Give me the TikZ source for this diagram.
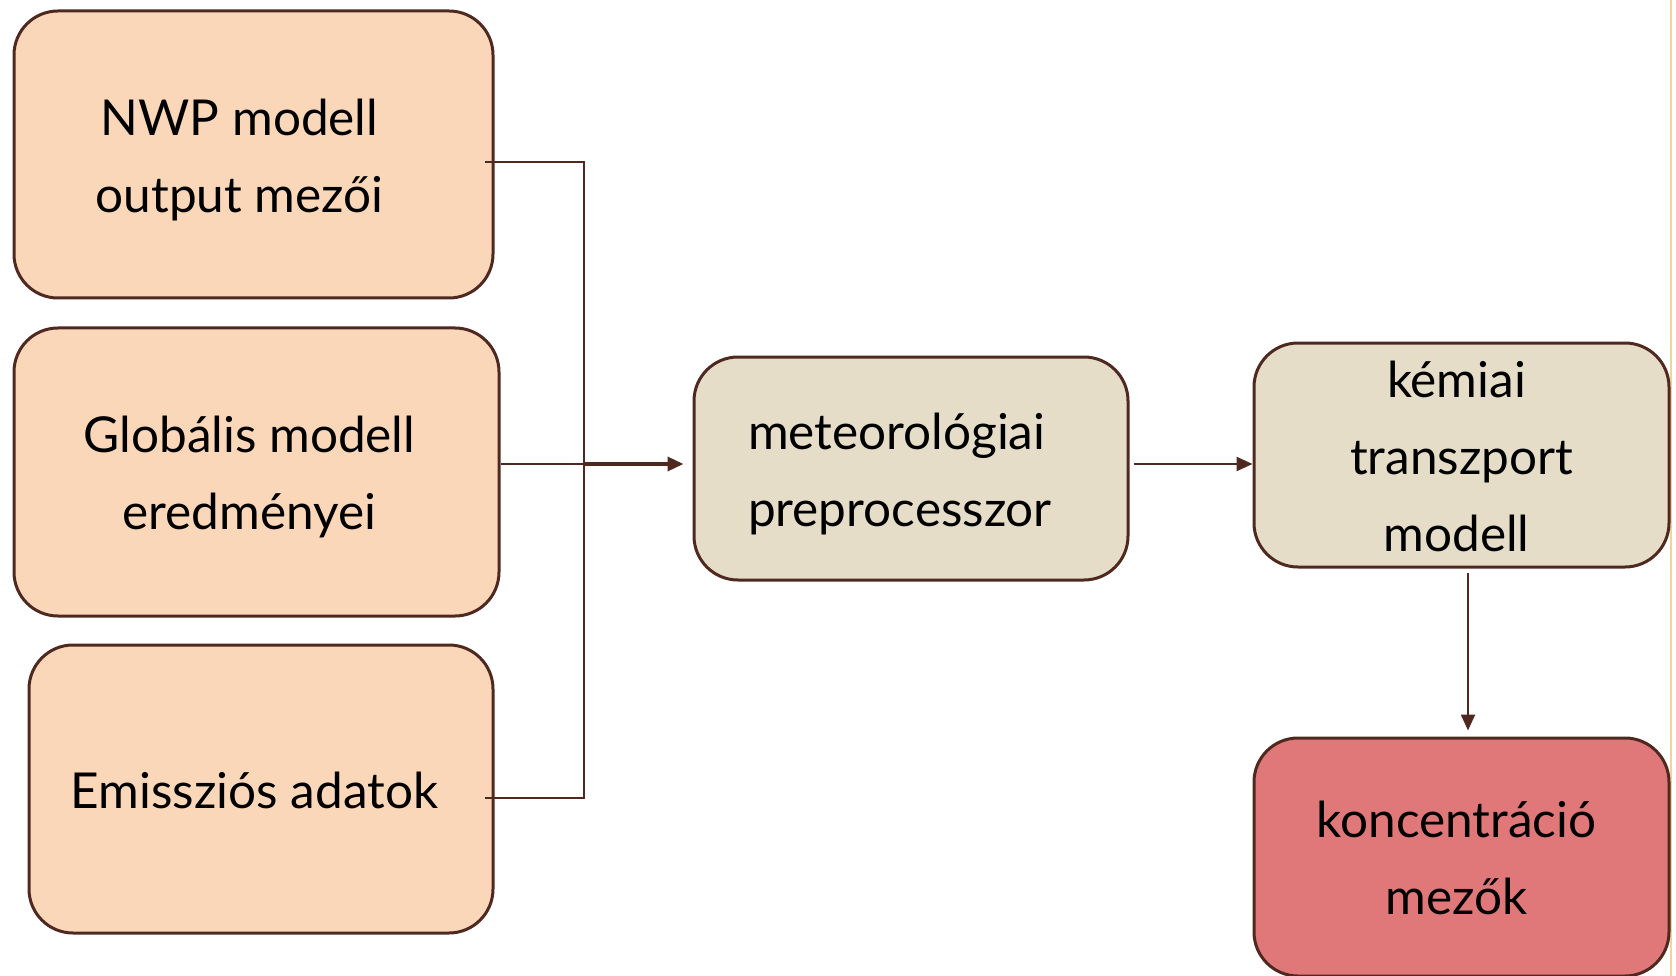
\documentclass[tikz,border=0pt]{standalone}
\usepackage{fontspec}
\setmainfont{Lato}
\usetikzlibrary{arrows.meta}
\definecolor{peach}{HTML}{FBD7BA}
\definecolor{tan}{HTML}{E5DDC8}
\definecolor{rose}{HTML}{E07879}
\definecolor{brd}{HTML}{4F2820}
\definecolor{gold}{HTML}{F0D498}
\newcommand\ts{\rule{0pt}{54pt}}
\newcommand\bs{\rule[-15.5pt]{0pt}{15.5pt}}
\newcommand\pad[1]{\hspace*{#1pt}}
\tikzset{
  box/.style={draw=brd, line width=3pt, rounded corners=44pt, inner sep=0pt,
    align=center, font=\fontsize{49.5}{77}\selectfont, text=black},
  conn/.style={draw=brd, line width=2.2pt},
  arr/.style={draw=brd, line width=2.4pt, -{Triangle[length=16pt,width=14pt]}}
}
\begin{document}
\begin{tikzpicture}[x=1pt,y=-1pt]
\useasboundingbox (0,0) rectangle (1676,976);
\fill[white] (0,0) rectangle (1676,976);
\draw[gold, line width=2pt] (1671,0) -- (1671,976);
% left boxes
\node[box, fill=peach, minimum width=479pt, minimum height=287pt] (n1) at (253.5,154.5) {\ts NWP modell\pad{28}\\output mezői\pad{28}\bs};
\node[box, fill=peach, minimum width=485pt, minimum height=288pt] (n2) at (256.5,472) {\ts Globális modell\pad{14}\\eredményei\pad{14}\bs};
\node[box, fill=peach, minimum width=464pt, minimum height=288pt] (n3) at (261,789) {\ts Emissziós adatok\pad{13}\bs};
% middle
\node[box, fill=tan, minimum width=434pt, minimum height=223pt, text width=326pt, align=left] (n6) at (911,468.5) {\ts meteorológiai\\preprocesszor\bs};
% right
\node[box, fill=tan, minimum width=415pt, minimum height=224pt] (n4) at (1461.5,455) {\ts kémiai\pad{10}\\transzport\pad{10}\\modell\pad{10}\bs};
\node[box, fill=rose, minimum width=415pt, minimum height=238pt] (n5) at (1461.5,857) {\ts koncentráció\pad{10}\\mezők\pad{10}\bs};
% bus
\coordinate (bus) at (584,464);
\coordinate (a1) at ([shift={(-10pt,-7.5pt)}]n1.east);
\coordinate (a3) at ([shift={(-10pt,-9pt)}]n3.east);
\draw[conn] (a1) -| (bus);
\draw[conn] (a3) -| (bus);
\draw[conn] ([yshift=8pt]n2.east) -- (bus);
\draw[arr, line width=3.4pt] (bus) -- (bus -| n6.west) [shorten >=9pt];
\coordinate (b1) at ([xshift=4pt]n6.east |- bus);
\draw[arr] (b1) -- (n4.west |- bus);
\coordinate (c1) at ([xshift=6.5pt,yshift=-4pt]n4.south);
\draw[arr, shorten >=6pt] (c1) -- (c1 |- n5.north);
\end{tikzpicture}
\end{document}
